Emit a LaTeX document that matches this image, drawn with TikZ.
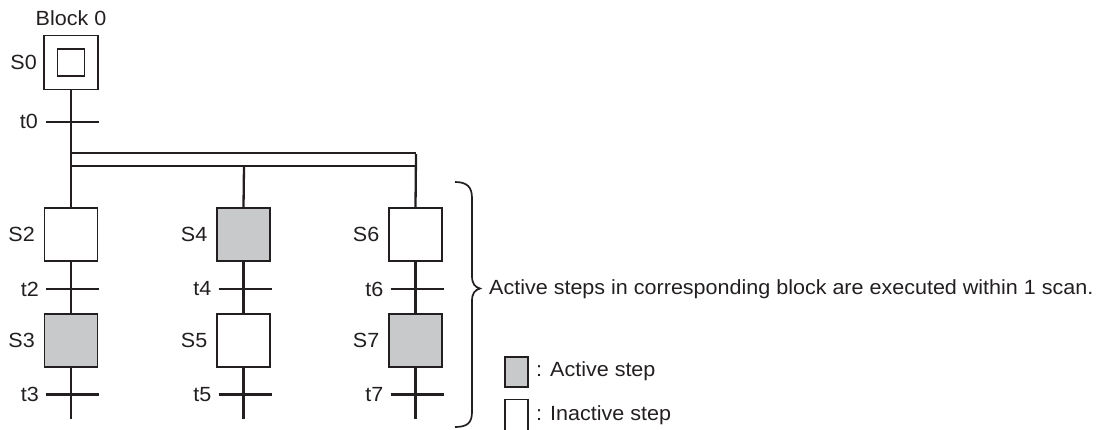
\documentclass[tikz,border=0pt]{standalone}
\usepackage{fontspec}
\setmainfont{Liberation Sans}[FakeStretch=1.05]
\definecolor{ink}{HTML}{231F20}
\definecolor{act}{HTML}{C8C9CB}
\begin{document}
\begin{tikzpicture}[x=1pt,y=-1pt,
  every node/.style={font=\fontsize{20.5}{24}\selectfont, text=ink},
  stepbox/.style={draw=ink, line width=1.4pt, minimum size=53pt, inner sep=0pt, fill=white},
  actbox/.style={stepbox, fill=act},
  conn/.style={draw=ink, line width=2.3pt},
  lbl/.style={anchor=east, inner sep=0pt}]
\useasboundingbox (0,0) rectangle (1103,429);
% Block 0
\node (blk) at (71,18) {Block 0};
\node[stepbox, minimum size=54pt] (S0) at (71,62.5) {};
\node[draw=ink, line width=1.4pt, minimum size=27pt, inner sep=0pt] (S0in) at (S0.center) {};
\node[lbl] (lS0) at (37,62.5) {S0};
% t0
\coordinate (t0) at (71,122);
\node[lbl] (lt0) at (38,121) {t0};
% parallel bars
\coordinate (pL1) at (71,153);
\coordinate (pR1) at (416,153);
\coordinate (pL2) at (71,166);
\coordinate (pM2) at (244,166);
\coordinate (pR2) at (416,166);
% steps
\node[stepbox] (S2) at (71,234.5) {};
\node[actbox]  (S3) at (71,340.5) {};
\node[actbox]  (S4) at (243.5,234.5) {};
\node[stepbox] (S5) at (243.5,340.5) {};
\node[stepbox] (S6) at (415.5,234.5) {};
\node[actbox]  (S7) at (415.5,340.5) {};
\foreach \n/\x/\y in {S2/71/234.5,S3/71/340.5,S4/243.5/234.5,S5/243.5/340.5,S6/415.5/234.5,S7/415.5/340.5}
  \node[lbl] (l\n) at (\x-36,\y) {\n};
% transitions
\coordinate (t2) at (71,289);
\coordinate (t3) at (71,394.5);
\coordinate (t4) at (243.5,289);
\coordinate (t5) at (243.5,394.5);
\coordinate (t6) at (415.5,289);
\coordinate (t7) at (415.5,394.5);
\foreach \n/\x/\y in {t2/71/289,t3/71/394.5,t4/243.5/289,t5/243.5/394.5,t6/415.5/289,t7/415.5/394.5}
  \node[lbl] (l\n) at (\x-32,\y) {\n};
\coordinate (e1) at (71,419);
\coordinate (e2) at (243.5,419);
\coordinate (e3) at (415.5,419);
% connectors
\draw[conn] (S0.south) -- (S2.north);
\draw[conn] (pL1) -- (pR1);
\draw[conn] (pL2) -- (pR2);
\draw[conn] ([yshift=-1pt]pR1) -- (S6.north);
\draw[conn] (pM2) -- (S4.north);
\draw[conn] (S2.south) -- (S3.north);
\draw[conn] (S4.south) -- (S5.north);
\draw[conn] (S6.south) -- (S7.north);
\draw[conn] (S3.south) -- (e1);
\draw[conn] (S5.south) -- (e2);
\draw[conn] (S7.south) -- (e3);
\foreach \t in {t0,t2,t3,t4,t5,t6,t7}
  \draw[conn] (\t) ++(-25,0) -- ++(53,0);
% brace
\draw[ink, line width=1.7pt] (455,182) .. controls (467,182) and (472,187) .. (472,198)
  -- (472,276) .. controls (472,284) and (475,287) .. (480,288.5)
  .. controls (475,290) and (472,293) .. (472,301)
  -- (472,412) .. controls (472,423) and (467,427) .. (455,427);
\node[anchor=west, inner sep=0pt] (note) at (489,289) {Active steps in corresponding block are executed within 1 scan.};
% legend
\node[draw=ink, line width=1.3pt, fill=act, minimum width=23pt, minimum height=30pt, inner sep=0pt] (lgA) at (516.5,372) {};
\node[anchor=west, inner sep=0pt] (lgAt) at (536,371) {: Active step};
\draw[ink, line width=1.3pt] (505,430) -- (505,399.5) -- (528,399.5) -- (528,430);
\coordinate (lgI) at (516.5,415);
\node[anchor=west, inner sep=0pt] (lgIt) at (536,415) {: Inactive step};
\end{tikzpicture}
\end{document}
